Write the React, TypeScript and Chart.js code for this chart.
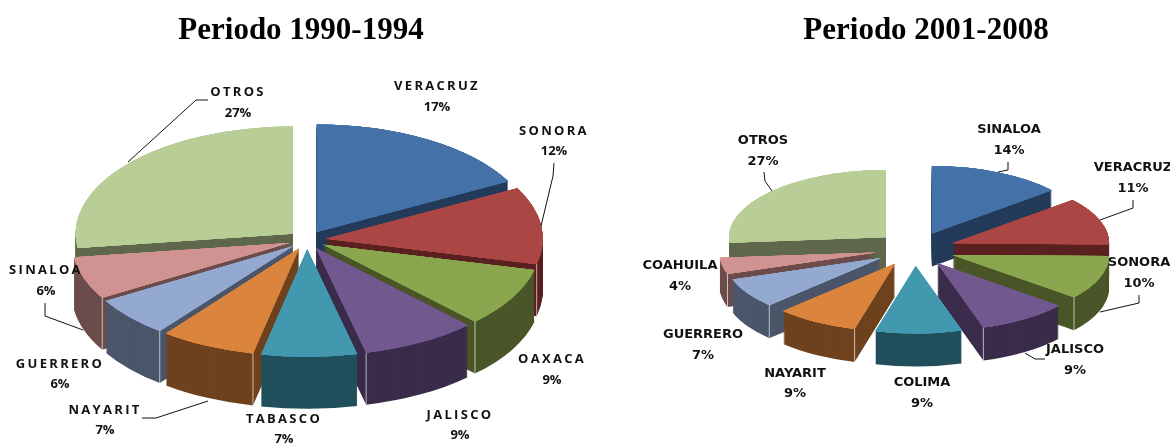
import React, { useEffect, useRef } from "react";
import { Chart, registerables } from "chart.js";

Chart.register(...registerables);

// ---- data ----
const title1 = "Periodo 1990-1994";
const categories1 = ["VERACRUZ", "SONORA", "OAXACA", "JALISCO", "TABASCO", "NAYARIT", "GUERRERO", "SINALOA", "OTROS"];
const shares1 = [17.2, 11.6, 8.9, 8.6, 7.1, 7.1, 6.0, 6.4, 27.1];
const percents1 = [17, 12, 9, 9, 7, 7, 6, 6, 27];

const title2 = "Periodo 2001-2008";
const categories2 = ["SINALOA", "VERACRUZ", "SONORA", "JALISCO", "COLIMA", "NAYARIT", "GUERRERO", "COAHUILA", "OTROS"];
const shares2 = [13.9, 11.4, 10.6, 9.4, 8.9, 8.5, 7.2, 3.9, 26.3];
const percents2 = [14, 11, 10, 9, 9, 9, 7, 4, 27];

const topColors = ["#4472A8", "#AA4644", "#8AA64E", "#71588F", "#4198AF", "#DB843D", "#93A9CF", "#D19392", "#B9CD96"];
const wallColors = ["#243B5A", "#5A2120", "#4A5628", "#3A2C4A", "#214F5C", "#6F421E", "#4B566A", "#6C4C4B", "#5F684C"];

// ---- layout (page pixels) ----
const labelPlace1: [number, number, number][] = [
  [437, 86, 107], [554, 131, 151], [552, 359, 380], [460, 415, 435], [284, 419, 439],
  [105, 410, 430], [60, 364, 384], [46, 270, 291], [238, 92, 113],
];
const leaders1: number[][][] = [
  [[128, 162], [196, 100], [208, 100]],
  [[541, 226], [553, 176], [554, 163]],
  [[83, 330], [45, 316], [45, 303]],
  [[208, 401], [156, 418], [142, 418]],
];
const labelPlace2: [number, number, number][] = [
  [1009, 130, 151], [1133, 168, 189], [1139, 263, 284], [1075, 350, 371], [922, 383, 404],
  [795, 374, 394], [703, 335, 356], [680, 266, 287], [763, 141, 162],
];
const leaders2: number[][][] = [
  [[772, 191], [765, 181], [764, 172]],
  [[998, 172], [1008, 170], [1008, 162]],
  [[1100, 220], [1133, 208], [1133, 200]],
  [[1100, 312], [1139, 303], [1139, 295]],
  [[1025, 353], [1035, 359], [1045, 359]],
];

type Cfg = {
  title: string; categories: string[]; shares: number[]; percents: number[];
  left: number; width: number;
  radius: number; cx: number; cy: number; ratio: number; depth: number; explode: number;
  labelPlace: [number, number, number][]; leaders: number[][][];
  font: string; spacing: string;
};

const charts: Cfg[] = [
  {
    title: title1, categories: categories1, shares: shares1, percents: percents1,
    left: 0, width: 602,
    radius: 217, cx: 307, cy: 240, ratio: 0.495, depth: 52, explode: 19,
    labelPlace: labelPlace1, leaders: leaders1,
    font: 'bold 13px "Open Sans"', spacing: "2.3px",
  },
  {
    title: title2, categories: categories2, shares: shares2, percents: percents2,
    left: 641, width: 570,
    radius: 156.5, cx: 915, cy: 249, ratio: 0.43, depth: 33, explode: 40,
    labelPlace: labelPlace2, leaders: leaders2,
    font: 'bold 13px "DejaVu Sans"', spacing: "0px",
  },
];

function pie3d(cfg: Cfg) {
  return {
    id: "pie3d",
    beforeDatasetDraw() {
      return false; // the arcs are painted back-to-front below
    },
    afterDatasetsDraw(chart: any) {
      const ctx: CanvasRenderingContext2D = chart.ctx;
      const arcs: any[] = chart.getDatasetMeta(0).data;
      const half = (a: any) => (a.startAngle + a.endAngle) / 2;
      const localCx = cfg.cx - cfg.left;
      const paint = (arc: any, color: string, dy: number) => {
        const h = half(arc);
        ctx.save();
        ctx.translate(localCx - arc.x, cfg.cy + dy);
        ctx.scale(1, cfg.ratio);
        ctx.translate(0, -arc.y);
        ctx.translate(Math.cos(h) * cfg.explode, Math.sin(h) * cfg.explode);
        const saved = arc.options;
        arc.options = { ...saved, backgroundColor: color };
        arc.draw(ctx);
        arc.options = saved;
        ctx.restore();
      };
      const order = arcs.map((_, i) => i).sort((a, b) => Math.sin(half(arcs[a])) - Math.sin(half(arcs[b])));
      for (const i of order) {
        const arc = arcs[i];
        for (let d = cfg.depth; d >= 1; d--) paint(arc, wallColors[i], d);
        // repeated so the antialiased rim fully covers the dark stack below it
        for (let k = 0; k < 5; k++) paint(arc, topColors[i], 0);
        // light seam where the radial wall meets the outer wall
        const h = half(arc);
        if (Math.sin(h) > -0.2 && Math.abs(Math.cos(h)) > 0.25) {
          const a = Math.cos(h) > 0 ? arc.endAngle : arc.startAngle;
          const x = localCx + Math.cos(h) * cfg.explode + Math.cos(a) * arc.outerRadius;
          const y = cfg.cy + (Math.sin(h) * cfg.explode + Math.sin(a) * arc.outerRadius) * cfg.ratio;
          ctx.save();
          ctx.strokeStyle = "rgba(255,255,255,0.65)";
          ctx.lineWidth = 1;
          ctx.beginPath();
          ctx.moveTo(x, y);
          ctx.lineTo(x, y + cfg.depth);
          ctx.stroke();
          ctx.restore();
        }
      }
      // leader lines
      ctx.save();
      ctx.strokeStyle = "#111";
      ctx.lineWidth = 1;
      for (const line of cfg.leaders) {
        ctx.beginPath();
        line.forEach(([x, y], k) => (k ? ctx.lineTo(x - cfg.left, y) : ctx.moveTo(x - cfg.left, y)));
        ctx.stroke();
      }
      // data labels
      ctx.fillStyle = "#111";
      ctx.font = cfg.font;
      ctx.textAlign = "center";
      ctx.textBaseline = "middle";
      cfg.labelPlace.forEach(([x, y1, y2], i) => {
        (ctx as any).letterSpacing = cfg.spacing;
        ctx.fillText(cfg.categories[i], x - cfg.left, y1);
        (ctx as any).letterSpacing = "0px";
        ctx.fillText(cfg.percents[i] + "%", x - cfg.left, y2);
      });
      ctx.restore();
    },
  };
}

function PieCanvas({ cfg }: { cfg: Cfg }) {
  const ref = useRef<HTMLCanvasElement>(null);
  useEffect(() => {
    const chart = new Chart(ref.current!, {
      type: "pie",
      data: {
        labels: cfg.categories,
        datasets: [{ data: cfg.shares, backgroundColor: topColors, borderWidth: 0 }],
      },
      options: {
        animation: false,
        responsive: false,
        maintainAspectRatio: false,
        radius: cfg.radius,
        plugins: {
          legend: { display: false },
          tooltip: { enabled: false },
          title: {
            display: true,
            text: cfg.title,
            color: "#000",
            font: { family: '"Liberation Serif"', size: 31, weight: "bold" },
            padding: { top: 12, bottom: 0 },
          },
        },
      } as any,
      plugins: [pie3d(cfg)],
    });
    return () => chart.destroy();
  }, [cfg]);
  return (
    <canvas
      ref={ref}
      width={cfg.width}
      height={444}
      style={{ position: "absolute", left: cfg.left, top: 0, width: cfg.width, height: 444 }}
    />
  );
}

export default function App() {
  return (
    <div style={{ position: "fixed", left: 0, top: 0, width: 1170, height: 444, overflow: "hidden", background: "#fff" }}>
      {charts.map((c) => (
        <PieCanvas key={c.title} cfg={c} />
      ))}
    </div>
  );
}
